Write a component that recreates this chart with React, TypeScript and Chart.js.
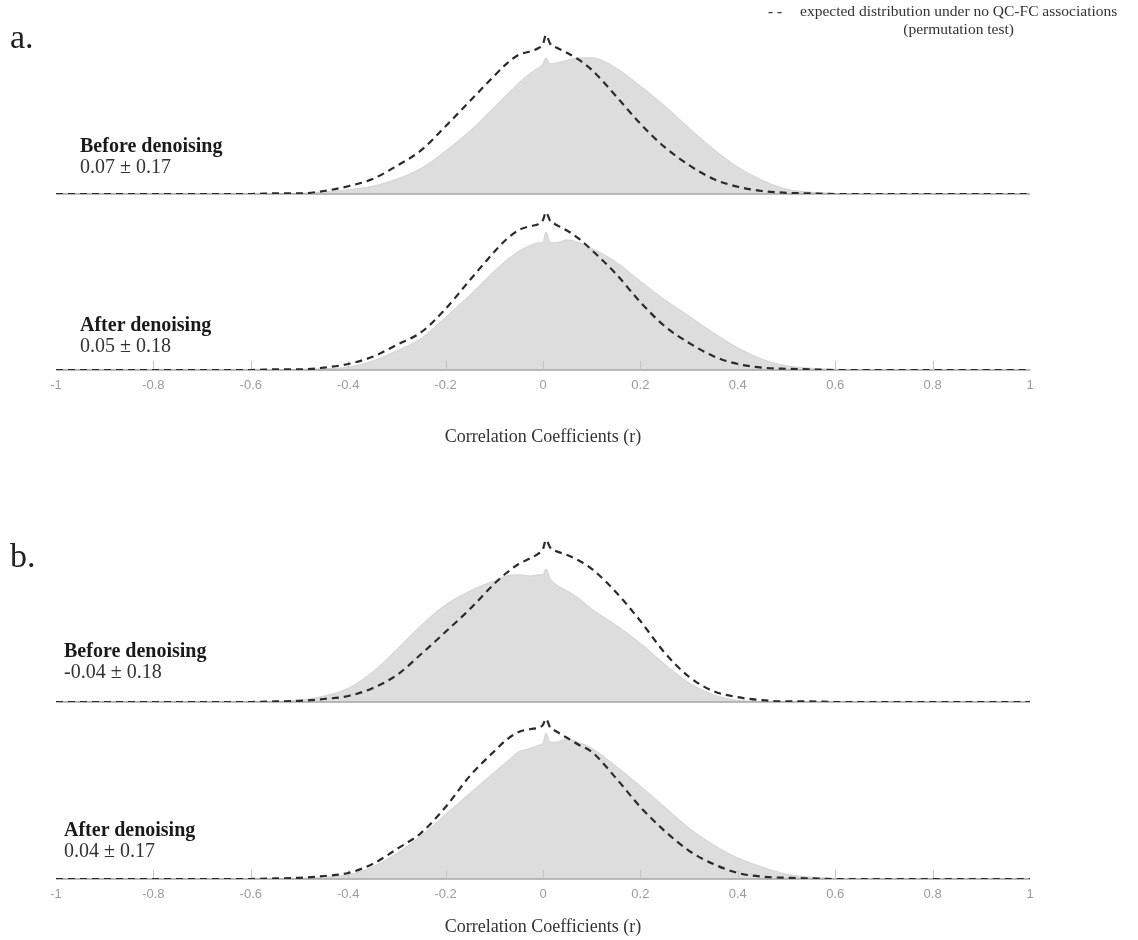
import React, { useEffect, useRef } from "react";
import { Chart, registerables } from "chart.js";

Chart.register(...registerables);

// correlation coefficient grid (x values)
const rGrid = [-1, -0.6, -0.55, -0.5, -0.45, -0.4, -0.35, -0.3, -0.25, -0.2, -0.15, -0.1, -0.075, -0.05, -0.025, -0.01, 0, 0.006, 0.015, 0.025, 0.05, 0.075, 0.1, 0.15, 0.2, 0.25, 0.3, 0.35, 0.4, 0.45, 0.5, 0.55, 0.6, 0.65, 1];

// a. before denoising
const aBeforeNull = [0, 0, 0.01, 0.01, 0.05, 0.13, 0.25, 0.47, 0.73, 1.13, 1.55, 1.97, 2.17, 2.32, 2.38, 2.43, 2.5, 2.65, 2.5, 2.45, 2.35, 2.23, 2.07, 1.63, 1.17, 0.78, 0.48, 0.25, 0.12, 0.05, 0.02, 0.01, 0, 0, 0];
const aBeforeObs = [0, 0, 0, 0.01, 0.03, 0.07, 0.13, 0.25, 0.43, 0.72, 1.05, 1.45, 1.65, 1.85, 2.02, 2.1, 2.17, 2.27, 2.17, 2.18, 2.23, 2.27, 2.27, 2.1, 1.8, 1.47, 1.1, 0.75, 0.45, 0.23, 0.08, 0.03, 0.01, 0, 0];
// a. after denoising
const aAfterNull = [0, 0, 0.01, 0.01, 0.04, 0.1, 0.22, 0.42, 0.63, 1.02, 1.5, 1.97, 2.18, 2.33, 2.4, 2.43, 2.5, 2.63, 2.48, 2.43, 2.32, 2.18, 2.0, 1.6, 1.13, 0.73, 0.45, 0.23, 0.1, 0.04, 0.02, 0.01, 0, 0, 0];
const aAfterObs = [0, 0, 0, 0.01, 0.02, 0.05, 0.15, 0.32, 0.53, 0.88, 1.25, 1.65, 1.83, 1.98, 2.08, 2.12, 2.13, 2.3, 2.13, 2.12, 2.17, 2.12, 2.03, 1.8, 1.48, 1.17, 0.9, 0.62, 0.37, 0.18, 0.07, 0.03, 0.01, 0, 0];
// b. before denoising
const bBeforeNull = [0, 0, 0.01, 0.02, 0.05, 0.1, 0.23, 0.45, 0.8, 1.17, 1.55, 1.97, 2.15, 2.3, 2.4, 2.47, 2.55, 2.7, 2.57, 2.52, 2.45, 2.35, 2.22, 1.83, 1.35, 0.82, 0.42, 0.18, 0.08, 0.03, 0.01, 0.01, 0, 0, 0];
const bBeforeObs = [0, 0, 0.01, 0.03, 0.1, 0.23, 0.5, 0.88, 1.28, 1.62, 1.85, 2.02, 2.1, 2.12, 2.1, 2.12, 2.12, 2.22, 2.05, 1.97, 1.85, 1.72, 1.55, 1.28, 0.98, 0.63, 0.32, 0.12, 0.03, 0.01, 0, 0, 0, 0, 0];
// b. after denoising
const bAfterNull = [0, 0, 0.01, 0.02, 0.05, 0.1, 0.25, 0.5, 0.77, 1.2, 1.72, 2.13, 2.32, 2.45, 2.5, 2.52, 2.57, 2.67, 2.52, 2.47, 2.35, 2.23, 2.12, 1.68, 1.2, 0.8, 0.47, 0.25, 0.1, 0.04, 0.02, 0.01, 0, 0, 0];
const bAfterObs = [0, 0, 0, 0.01, 0.03, 0.07, 0.2, 0.43, 0.72, 1.08, 1.43, 1.78, 1.95, 2.12, 2.18, 2.23, 2.27, 2.43, 2.28, 2.28, 2.33, 2.27, 2.18, 1.88, 1.55, 1.2, 0.85, 0.57, 0.35, 0.2, 0.08, 0.03, 0.01, 0, 0];

const xTickValues = [-1, -0.8, -0.6, -0.4, -0.2, 0, 0.2, 0.4, 0.6, 0.8, 1];
const axisTitle = "Correlation Coefficients (r)";
const legendLine1 = "expected distribution under no QC-FC associations";
const legendLine2 = "(permutation test)";

const SERIF = "'Liberation Serif', 'Times New Roman', Times, serif";
const SANS = "'Liberation Sans', Arial, Helvetica, sans-serif";

const decorPlugin = {
  id: "decor",
  afterDatasetDraw(chart: any, args: any, opts: any) {
    if (args.index !== 1) return; // after the filled (observed) dataset
    const { ctx, chartArea, scales } = chart;
    const y0 = scales.y.getPixelForValue(0);
    ctx.save();
    ctx.strokeStyle = "#a6a6a6";
    ctx.lineWidth = 1.5;
    ctx.beginPath();
    ctx.moveTo(chartArea.left, y0);
    ctx.lineTo(chartArea.right, y0);
    ctx.stroke();
    if (opts && opts.ticks) {
      ctx.strokeStyle = "#c4c4c4";
      ctx.lineWidth = 1;
      xTickValues.forEach((v, i) => {
        if (i === 0 || i === xTickValues.length - 1) return;
        const x = Math.round(scales.x.getPixelForValue(v)) + 0.5;
        ctx.beginPath();
        ctx.moveTo(x, y0);
        ctx.lineTo(x, y0 - 9);
        ctx.stroke();
      });
    }
    ctx.restore();
  },
};

type PanelProps = {
  nullVals: number[];
  obsVals: number[];
  top: number;
  showAxis: boolean;
  axisHeight: number;
};

function Panel({ nullVals, obsVals, top, showAxis, axisHeight }: PanelProps) {
  const ref = useRef<HTMLCanvasElement | null>(null);
  const padTop = 4;
  const area = 180;
  const padBottom = showAxis ? 0 : 4;
  const height = padTop + area + padBottom + (showAxis ? axisHeight : 0);

  useEffect(() => {
    if (!ref.current) return;
    const toPts = (vals: number[]) => rGrid.map((r, i) => ({ x: r, y: vals[i] }));
    const chart = new Chart(ref.current, {
      type: "line",
      data: {
        datasets: [
          {
            label: "null",
            data: toPts(nullVals),
            borderColor: "#2b2b2b",
            borderWidth: 2.2,
            borderDash: [7, 5],
            pointRadius: 0,
            fill: false,
            cubicInterpolationMode: "monotone",
            order: 0,
          },
          {
            label: "observed",
            data: toPts(obsVals),
            borderColor: "#d2d2d2",
            borderWidth: 1,
            backgroundColor: "#dddddd",
            pointRadius: 0,
            fill: "origin",
            cubicInterpolationMode: "monotone",
            order: 1,
          },
        ],
      },
      options: {
        animation: false,
        responsive: false,
        devicePixelRatio: 1,
        layout: { padding: { left: 56, right: 108, top: padTop, bottom: padBottom } },
        plugins: {
          legend: { display: false },
          tooltip: { enabled: false },
          decor: { ticks: showAxis },
        } as any,
        scales: {
          x: {
            type: "linear",
            min: -1,
            max: 1,
            display: showAxis,
            grid: { display: false, drawTicks: false },
            border: { display: false },
            ticks: {
              stepSize: 0.2,
              padding: 8,
              color: "#9b9b9b",
              font: { family: SANS, size: 13 },
              maxRotation: 0,
              autoSkip: false,
              callback: (v: any) => String(Math.round(Number(v) * 10) / 10),
            },
            title: {
              display: showAxis,
              text: axisTitle,
              color: "#333333",
              font: { family: SERIF, size: 18 },
              padding: { top: 0, bottom: 0 },
            },
            afterFit: (scale: any) => {
              if (showAxis) scale.height = axisHeight;
            },
          },
          y: {
            display: false,
            min: 0,
            max: 3,
          },
        },
      },
      plugins: [decorPlugin],
    } as any);
    return () => chart.destroy();
  }, []);

  return (
    <canvas
      ref={ref}
      width={1138}
      height={height}
      style={{ position: "absolute", left: 0, top, width: 1138, height, display: "block" }}
    />
  );
}

function Label({ left, top, title, stat }: { left: number; top: number; title: string; stat: string }) {
  return (
    <div style={{ position: "absolute", left, top, fontFamily: SERIF, fontSize: 20, lineHeight: "21px", color: "#1a1a1a", whiteSpace: "nowrap" }}>
      <div style={{ fontWeight: "bold" }}>{title}</div>
      <div style={{ color: "#333" }}>{stat}</div>
    </div>
  );
}

export default function App() {
  return (
    <div style={{ position: "fixed", left: 0, top: 0, width: 1138, height: 940, background: "#fff", overflow: "hidden" }}>
      <Panel nullVals={aBeforeNull} obsVals={aBeforeObs} top={10} showAxis={false} axisHeight={0} />
      <Panel nullVals={aAfterNull} obsVals={aAfterObs} top={186} showAxis={true} axisHeight={78} />
      <Panel nullVals={bBeforeNull} obsVals={bBeforeObs} top={518} showAxis={false} axisHeight={0} />
      <Panel nullVals={bAfterNull} obsVals={bAfterObs} top={695} showAxis={true} axisHeight={59} />

      <div style={{ position: "absolute", left: 10, top: 20, fontFamily: SERIF, fontSize: 34, lineHeight: "34px", color: "#222" }}>a.</div>
      <div style={{ position: "absolute", left: 10, top: 539, fontFamily: SERIF, fontSize: 34, lineHeight: "34px", color: "#222" }}>b.</div>

      <Label left={80} top={135} title="Before denoising" stat="0.07 ± 0.17" />
      <Label left={80} top={314} title="After denoising" stat="0.05 ± 0.18" />
      <Label left={64} top={640} title="Before denoising" stat="-0.04 ± 0.18" />
      <Label left={64} top={819} title="After denoising" stat="0.04 ± 0.17" />

      <div style={{ position: "absolute", left: 768, top: 2, display: "flex", fontFamily: SERIF, fontSize: 15.5, lineHeight: "18px", color: "#333", whiteSpace: "nowrap" }}>
        <div style={{ width: 32, fontWeight: "bold" }}>- -</div>
        <div style={{ textAlign: "center" }}>
          <div>{legendLine1}</div>
          <div>{legendLine2}</div>
        </div>
      </div>
    </div>
  );
}
